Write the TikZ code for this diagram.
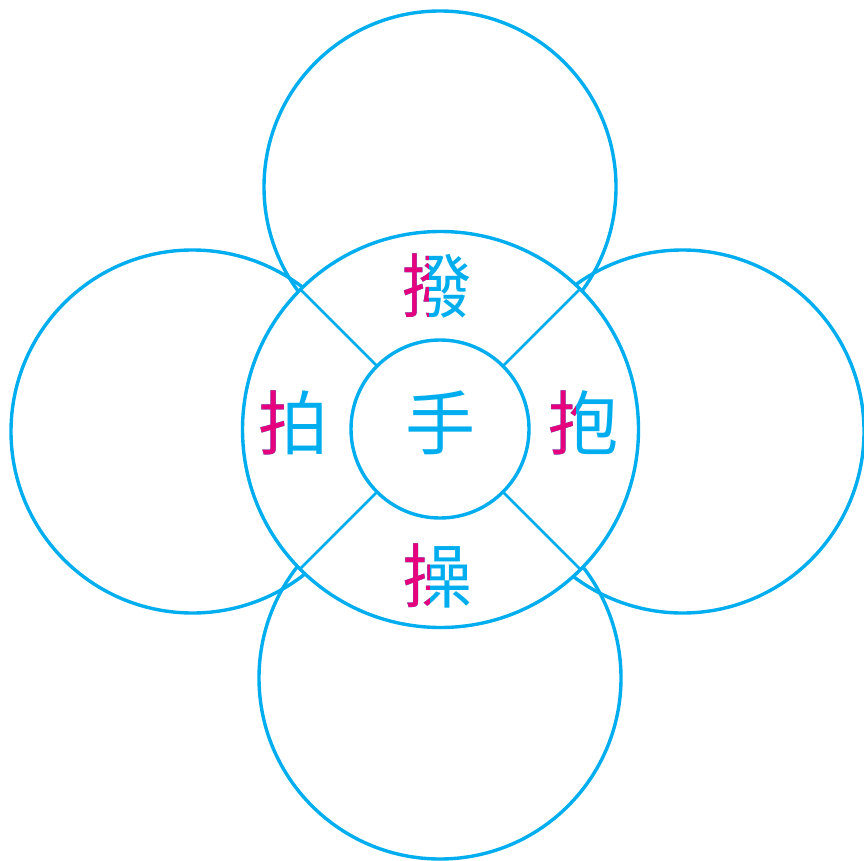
\documentclass[tikz,border=0pt]{standalone}
\usepackage{fontspec}
\newfontfamily\cjk{Noto Sans CJK TC}
\definecolor{ringblue}{RGB}{0,174,239}
\definecolor{radicalred}{RGB}{230,0,126}

% left part of a character (the hand radical) redrawn in red
\newcommand\handradical[3]{%
  \begin{scope}
    \clip ([xshift=-4pt,yshift=-4pt]#1.south west) rectangle ([xshift=#3,yshift=4pt]#1.north);
    \node[hanzi,text=radicalred] at (#1.center) {#2};
  \end{scope}}

\begin{document}
\begin{tikzpicture}[x=1pt, y=-1pt, line width=3.4pt, draw=ringblue,
  hanzi/.style={inner sep=0pt, text=ringblue, font=\cjk\fontsize{70}{74}\selectfont}]

  %% outer petals
  \draw (440,187) circle (176);
  \draw (440,678) circle (181);
  \draw (192.5,431.5) circle (181.5);
  \draw (682.5,431.5) circle (181.5);

  %% ring and hub
  \draw[fill=white] (440.5,429.5) circle (198);
  \draw (440,429) circle (89);

  %% spokes
  \draw[line width=2.6pt] (440,429) ++(135:89) -- ++(135:110);
  \draw[line width=2.6pt] (440,429) ++(45:89) -- ++(45:110);
  \draw[line width=2.6pt] (440,429) ++(-45:89) -- ++(-45:110);
  \draw[line width=2.6pt] (440,429) ++(-135:89) -- ++(-135:110);

  %% labels
  \node[hanzi] (shou) at (440,423) {手};
  \node[hanzi] (bo) at (436,286) {撥};
  \node[hanzi] (pai) at (293,423) {拍};
  \node[hanzi] (bao) at (583,423) {抱};
  \node[hanzi] (cao) at (437,576) {操};
  \handradical{bo}{撥}{-7.5pt}
  \handradical{pai}{拍}{-7.5pt}
  \handradical{bao}{抱}{-7.5pt}
  \handradical{cao}{操}{-7.5pt}

  \pgfresetboundingbox
  \path[use as bounding box] (0,0) rectangle (864,861);
\end{tikzpicture}
\end{document}
